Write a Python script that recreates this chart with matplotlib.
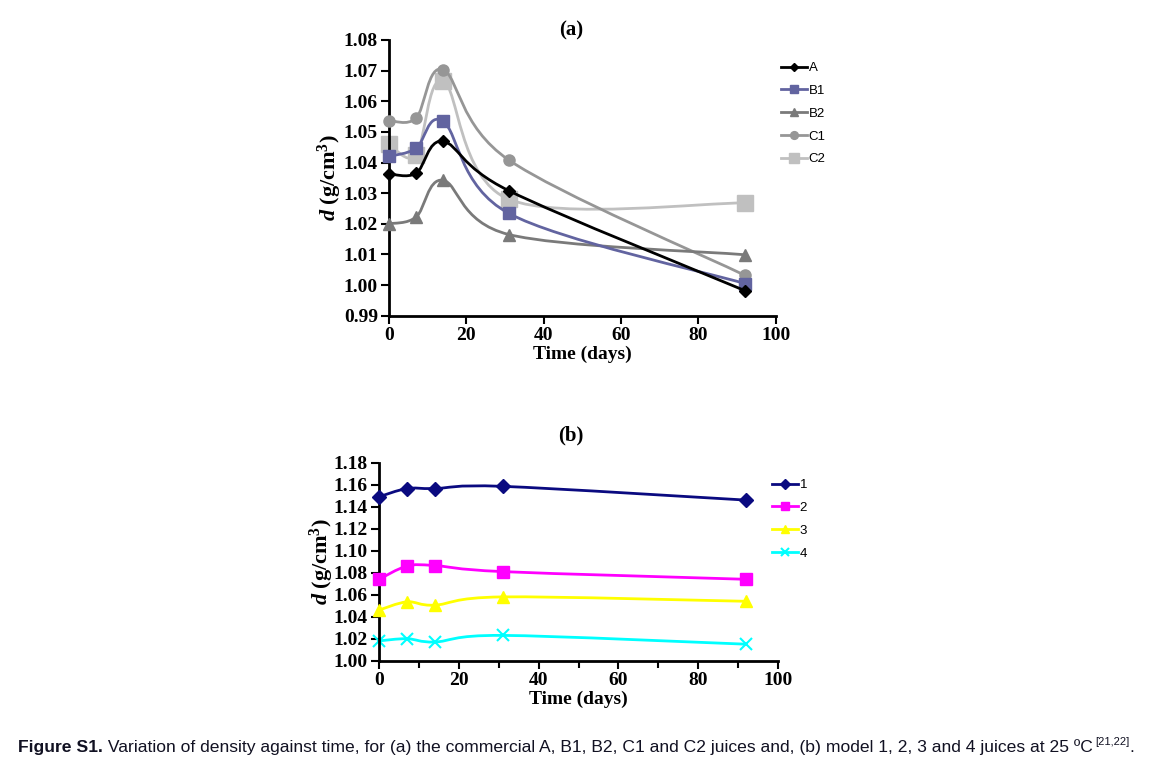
import matplotlib
matplotlib.use("Agg")
import matplotlib.pyplot as plt
import numpy as np
from matplotlib.path import Path
from matplotlib.patches import PathPatch
from matplotlib.lines import Line2D
from matplotlib.ticker import MultipleLocator

# ---------------- data ----------------
days = [0, 7, 14, 31, 92]

labels_a = ["A", "B1", "B2", "C1", "C2"]
d_A = [1.0363, 1.0365, 1.0469, 1.0308, 0.9982]
d_B1 = [1.0420, 1.0446, 1.0534, 1.0234, 1.0005]
d_B2 = [1.0200, 1.0222, 1.0342, 1.0165, 1.0099]
d_C1 = [1.0537, 1.0545, 1.0703, 1.0408, 1.0032]
d_C2 = [1.0460, 1.0424, 1.0667, 1.0280, 1.0268]

labels_b = ["1", "2", "3", "4"]
d_1 = [1.1490, 1.1565, 1.1565, 1.1585, 1.1460]
d_2 = [1.0740, 1.0860, 1.0865, 1.0810, 1.0740]
d_3 = [1.0460, 1.0535, 1.0505, 1.0580, 1.0540]
d_4 = [1.0180, 1.0200, 1.0170, 1.0230, 1.0150]

xticks = [0, 20, 40, 60, 80, 100]
yticks_a = [0.99, 1.00, 1.01, 1.02, 1.03, 1.04, 1.05, 1.06, 1.07, 1.08]
yticks_b = [1.00, 1.02, 1.04, 1.06, 1.08, 1.10, 1.12, 1.14, 1.16, 1.18]

caption_bold = "Figure S1."
caption_text = (" Variation of density against time, for (a) the commercial A, B1, B2, C1 and C2 "
                "juices and, (b) model 1, 2, 3 and 4 juices at 25 ºC")
caption_sup = "[21,22]"

# ---------------- helpers ----------------
def smooth_path(x, y, t=1/6):
    x = np.asarray(x, float); y = np.asarray(y, float)
    n = len(x)
    verts = [(x[0], y[0])]
    codes = [Path.MOVETO]
    for i in range(n - 1):
        p0 = np.array([x[max(i - 1, 0)], y[max(i - 1, 0)]])
        p1 = np.array([x[i], y[i]])
        p2 = np.array([x[i + 1], y[i + 1]])
        p3 = np.array([x[min(i + 2, n - 1)], y[min(i + 2, n - 1)]])
        c1 = p1 + (p2 - p0) * t
        c2 = p2 - (p3 - p1) * t
        verts += [tuple(c1), tuple(c2), tuple(p2)]
        codes += [Path.CURVE4] * 3
    return Path(verts, codes)

def draw_series(ax, x, y, color, marker, ms, mew=1.0, lw=2.0, z=2):
    patch = PathPatch(smooth_path(x, y), facecolor="none", edgecolor=color,
                      lw=lw, transform=ax.transData, zorder=z, clip_on=False)
    ax.add_patch(patch)
    ax.plot(x, y, linestyle="none", marker=marker, ms=ms, color=color,
            mec=color, mew=mew, zorder=z + 0.5, clip_on=False)
    return Line2D([], [], color=color, lw=lw, marker=marker, ms=ms * 0.7,
                  mec=color, mew=mew)

serif = ["Liberation Serif", "DejaVu Serif"]
sans = ["Liberation Sans", "DejaVu Sans"]

plt.rcParams["mathtext.fontset"] = "custom"
plt.rcParams["mathtext.it"] = "Liberation Serif:italic:bold"
plt.rcParams["mathtext.bf"] = "Liberation Serif:bold"
plt.rcParams["mathtext.rm"] = "Liberation Serif:bold"

def style_axes(ax, yt, ylim, xminor, ylpad):
    ax.set_xlim(0, 100)
    ax.set_ylim(*ylim)
    ax.set_xticks(xticks)
    ax.set_yticks(yt)
    ax.set_yticklabels([f"{v:.2f}" for v in yt])
    if xminor:
        ax.xaxis.set_minor_locator(MultipleLocator(10))
        ax.tick_params(axis="x", which="minor", length=5, width=1.5, direction="out")
    for s in ["top", "right"]:
        ax.spines[s].set_visible(False)
    for s in ["left", "bottom"]:
        ax.spines[s].set_linewidth(2.0)
    ax.tick_params(axis="both", which="major", length=6, width=1.5, direction="out",
                   labelsize=14, pad=2)
    for lab in ax.get_xticklabels() + ax.get_yticklabels():
        lab.set_fontfamily(serif)
        lab.set_fontweight("bold")
    ax.set_xlabel("Time (days)", fontfamily=serif, fontweight="bold", fontsize=14, labelpad=1)
    ax.set_ylabel(r"$d$ (g/cm$^3$)", fontfamily=serif, fontweight="bold", fontsize=16,
                  labelpad=ylpad)

fig = plt.figure(figsize=(11.49, 7.61), dpi=100)
fig.patch.set_facecolor("white")

# ---------------- panel (a) ----------------
ax1 = fig.add_axes([389 / 1149, 1 - 315.7 / 761, (775.7 - 389) / 1149, (315.7 - 40) / 761])
h = []
h.append(draw_series(ax1, days, d_A, "#000000", "D", 6, z=6))
h.append(draw_series(ax1, days, d_B1, "#6264a0", "s", 8, z=5))
h.append(draw_series(ax1, days, d_B2, "#7a7a7a", "^", 8, z=4))
h.append(draw_series(ax1, days, d_C1, "#969696", "o", 8, z=3))
h.append(draw_series(ax1, days, d_C2, "#c0c0c0", "s", 11, z=2))
style_axes(ax1, yticks_a, (0.99, 1.08), False, 0)
fig.text(571 / 1149, 1 - 30 / 761, "(a)", ha="center", va="center",
         fontfamily=serif, fontweight="bold", fontsize=15)
fig.legend(h, labels_a, loc="upper left", bbox_to_anchor=(781 / 1149, 1 - 62 / 761),
           frameon=False, prop={"family": sans, "size": 9.5}, handlelength=2.0,
           handletextpad=0.1, labelspacing=0.8, borderpad=0, borderaxespad=0)

# ---------------- panel (b) ----------------
ax2 = fig.add_axes([379 / 1149, 1 - 660.7 / 761, (778 - 379) / 1149, (660.7 - 462.7) / 761])
h2 = []
h2.append(draw_series(ax2, days, d_1, "#0a0a80", "D", 7, z=5))
h2.append(draw_series(ax2, days, d_2, "#ff00ff", "s", 8, z=4))
h2.append(draw_series(ax2, days, d_3, "#ffff00", "^", 8, z=3))
h2.append(draw_series(ax2, days, d_4, "#00ffff", "x", 8, mew=1.5, z=2))
style_axes(ax2, yticks_b, (1.00, 1.18), True, -2)
fig.text(571 / 1149, 1 - 435 / 761, "(b)", ha="center", va="center",
         fontfamily=serif, fontweight="bold", fontsize=15)
fig.legend(h2, labels_b, loc="upper left", bbox_to_anchor=(772 / 1149, 1 - 479 / 761),
           frameon=False, prop={"family": sans, "size": 9.5}, handlelength=2.0,
           handletextpad=0.1, labelspacing=0.8, borderpad=0, borderaxespad=0)

# ---------------- caption ----------------
fig.canvas.draw()
r = fig.canvas.get_renderer()
cap_y = 1 - 752 / 761
capcol = "#111122"
fs = 12.6
t1 = fig.text(18 / 1149, cap_y, caption_bold, fontfamily=sans, fontweight="bold",
              fontsize=fs, va="baseline", color=capcol)
bb = t1.get_window_extent(r)
t2 = fig.text(bb.x1 / 1149, cap_y, caption_text, fontfamily=sans, fontsize=fs,
              va="baseline", color=capcol)
bb2 = t2.get_window_extent(r)
t3 = fig.text(bb2.x1 / 1149 + 0.002, cap_y + 0.009, caption_sup, fontfamily=sans,
              fontsize=8, va="baseline", color=capcol)
bb3 = t3.get_window_extent(r)
fig.text(bb3.x1 / 1149, cap_y, ".", fontfamily=sans, fontsize=fs, va="baseline", color=capcol)

fig.savefig("out.png", dpi=100, facecolor="white")
